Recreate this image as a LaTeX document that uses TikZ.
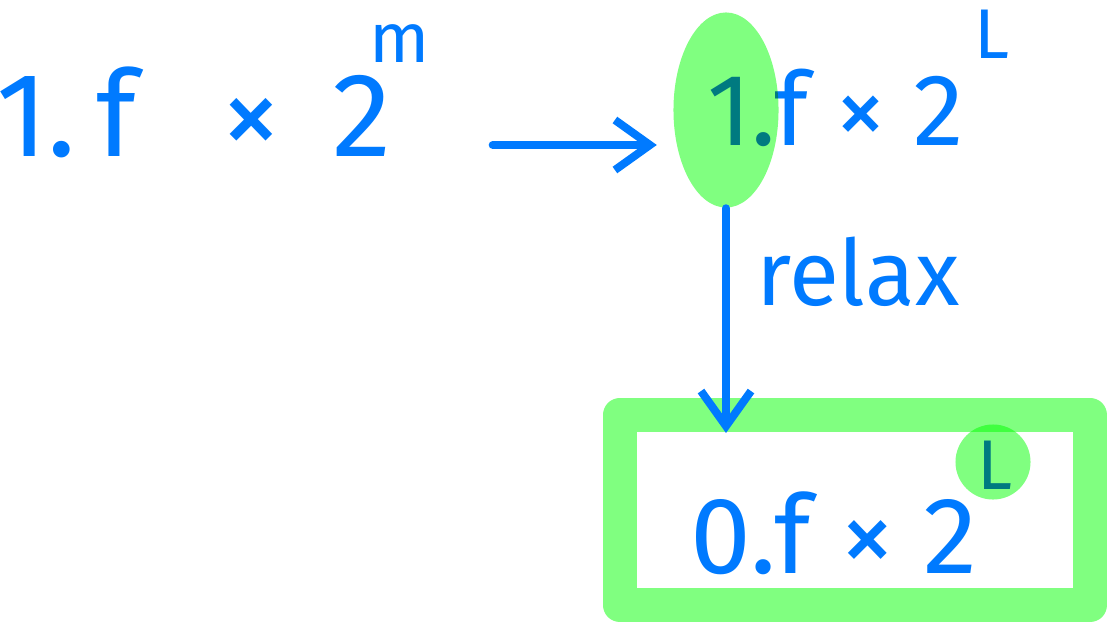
\documentclass[tikz,border=0pt]{standalone}
\usepackage{fontspec}
\setmainfont{Fira Sans}
\usetikzlibrary{arrows.meta,shapes.geometric}

\definecolor{pen}{RGB}{0,122,255}
\definecolor{marker}{RGB}{128,255,128}

\begin{document}
\begin{tikzpicture}[x=0.01cm, y=-0.01cm,
    expr/.style={text=pen, inner sep=0pt, font=\fontsize{34}{40}\selectfont},
    expon/.style={text=pen, inner sep=0pt, font=\fontsize{20}{24}\selectfont},
    lbl/.style={text=pen, inner sep=0pt, font=\fontsize{26}{30}\selectfont},
    arr/.style={draw=pen, line width=0.08cm, line cap=round, line join=round,
        -{Straight Barb[length=0.35cm, width=0.5cm, line width=0.08cm]}},
    blob/.style={fill=marker, draw=none, inner sep=0pt},
    hlbox/.style={draw=marker, line width=0.34cm, line join=round,
        inner sep=0pt, outer sep=0pt, minimum width=4.7cm, minimum height=1.9cm}]
    \useasboundingbox (0,0) rectangle (1109,630);

    \node[expr] (src) at (194,112) {1.\,f\;\, ×\, 2};
    \node[expon] (srcexp) at (400,44) {m};

    \node[expr, font=\fontsize{29}{34}\selectfont] (dst) at (836,108) {1.f × 2};
    \node[expon] (dstexp) at (992,34) {L};

    \node[expr, font=\fontsize{31}{36}\selectfont] (res) at (834,533) {0.f × 2};
    \node[expon] (resexp) at (995,465) {L};

    \node[lbl] (relax) at (858,272) {relax};

    \begin{scope}[blend mode=multiply]
        \node[blob, ellipse, minimum width=1.05cm, minimum height=1.95cm] (hlone) at (726,110) {};
        \node[blob, circle, minimum size=0.75cm] (hlexp) at (993,462) {};
        \node[hlbox] (resbox) at (855,510) {};
    \end{scope}

    \draw[arr, shorten <=1.0cm, shorten >=0.5cm] (src.east |- 0,145) -- (dst.west |- 0,145);
    \draw[arr, shorten >=-0.18cm] (hlone.south) -- (resbox.north -| hlone.south);
\end{tikzpicture}
\end{document}
